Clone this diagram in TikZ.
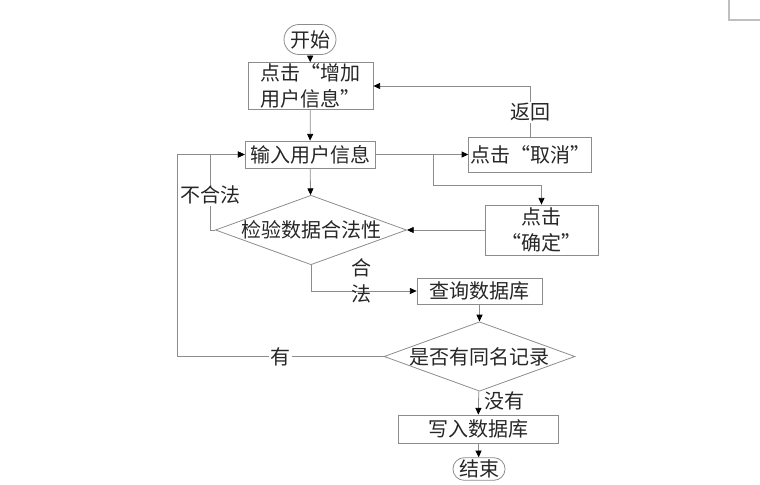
\documentclass[tikz,border=0pt]{standalone}
\usepackage{fontspec}
\newfontfamily\cjk[CharacterWidth=Full]{Noto Sans CJK SC}
\usetikzlibrary{arrows.meta,shapes.geometric,shapes.misc}

\providecommand{\flowLineColor}{black!45}
\providecommand{\flowTextColor}{black!85}
\providecommand{\flowLineWidth}{0.6pt}
\providecommand{\flowFont}{\cjk\fontsize{15pt}{19pt}\selectfont}

\tikzset{
  flowbox/.style={rectangle, draw=\flowLineColor, line width=\flowLineWidth,
    inner sep=1pt, text=\flowTextColor, font=\flowFont},
  terminal/.style={flowbox, rounded rectangle},
  decision/.style={flowbox, diamond, aspect=2.75, inner sep=0pt},
  flow/.style={draw=\flowLineColor, line width=\flowLineWidth,
    -{Triangle[color=black, length=5pt, width=4.5pt]}},
  lbl/.style={font=\flowFont, text=\flowTextColor, fill=white, inner sep=1pt}
}

\begin{document}
\begin{tikzpicture}[x=0.75pt, y=-0.75pt]
% page size (pixels)
\useasboundingbox (0,0) rectangle (760,485);
% page corner mark
\draw[black!25, line width=0.8pt] (729,0) -- (729,20) -- (760,20);

% Steps
\node[terminal, minimum width=41pt, minimum height=22.5pt] (start) at (310,39.5) {开始};
\node[flowbox, minimum width=93.75pt, minimum height=34.5pt, align=left] (add) at (310.5,86) {点击“增加\\用户信息”};
\node[flowbox, minimum width=97.5pt, minimum height=20.25pt] (input) at (310,154.5) {输入用户信息};
\node[flowbox, minimum width=91.5pt, minimum height=26.25pt] (cancel) at (530,154.5) {点击“取消”};
\node[flowbox, minimum width=84.75pt, minimum height=37.5pt, align=center] (confirm) at (541.5,230) {点击\\“确定”};
\node[decision] (check) at (311,230) {检验数据合法性};
\node[flowbox, minimum width=93.75pt, minimum height=19.5pt] (query) at (479.5,291) {查询数据库};
\node[decision] (dup) at (479.5,356.5) {是否有同名记录};
\node[flowbox, minimum width=120pt, minimum height=21pt] (write) at (478,429) {写入数据库};
\node[terminal, minimum width=39pt, minimum height=17pt] (end) at (479,469) {结束};

% Main line
\draw[flow] (start) -- (add);
\draw[flow] (add) -- (input);
\draw[flow] (input) -- (cancel);
\draw[flow] (input) -- (check);
\draw[flow] (query) -- (dup);
\draw[flow] (dup) -- node[lbl, fill=none, right, pos=0.4, xshift=3pt] {没有} (write);
\draw[flow] (write) -- (end);

% Cancel / confirm branch
\coordinate (split) at (433,154.5);
\draw[flow] (cancel.north) |- node[lbl, pos=0.24] {返回} (add.east);
\draw[flow] (split) -- ++(0,30.5) -| (confirm.north);
\draw[flow] (confirm) -- (check);

% Check results
\draw[flow] (check.west) -- ++(-5,0) |- node[lbl, pos=0.23] {不合法} (input.west);
\draw[flow] (check.south) |- node[lbl, fill=none, pos=0.74, yshift=7.5pt, align=center] {合\\法} (query.west);
\draw[flow] (dup.west) -- node[lbl, pos=0.5] {有} ++(-206,0) |- (input.west);
\end{tikzpicture}
\end{document}
